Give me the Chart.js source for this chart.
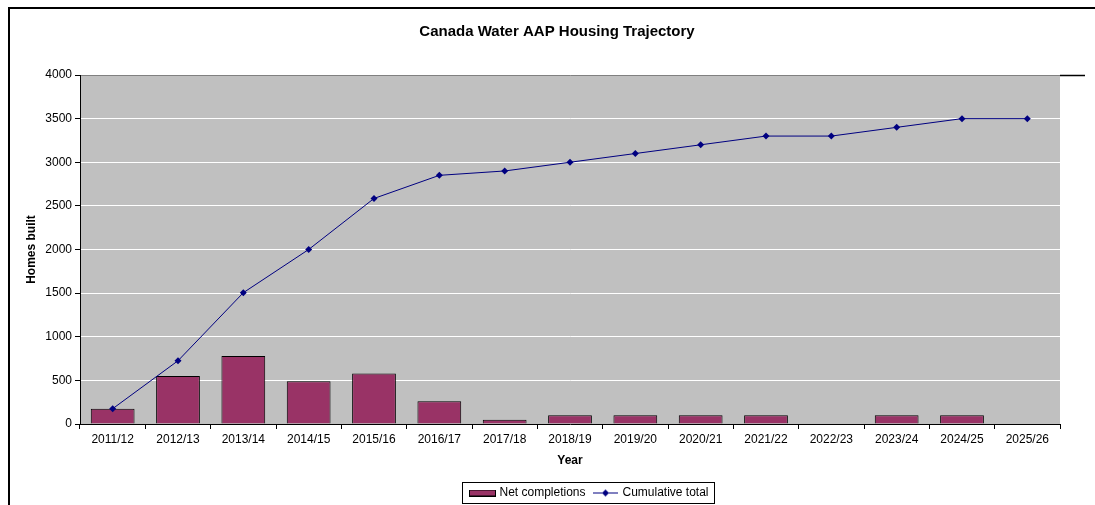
<!DOCTYPE html>
<html>
<head>
<meta charset="utf-8">
<title>Canada Water AAP Housing Trajectory</title>
<script src="https://cdn.jsdelivr.net/npm/chart.js@4"></script>
<style>
  html, body { margin: 0; padding: 0; background: #ffffff; }
  #wrap { width: 1095px; height: 505px; }
</style>
</head>
<body>
<div id="wrap"><canvas id="chart" width="1095" height="505"></canvas></div>
<script>
// Financial years on the category axis
const years = ['2011/12', '2012/13', '2013/14', '2014/15', '2015/16', '2016/17', '2017/18',
  '2018/19', '2019/20', '2020/21', '2021/22', '2022/23', '2023/24', '2024/25', '2025/26'];

// Homes completed in each year
const netCompletions = [175, 550, 780, 490, 580, 260, 50, 100, 100, 100, 100, 0, 100, 100, 0];

// Running total of homes built
const cumulativeTotal = [175, 725, 1505, 2000, 2585, 2850, 2900, 3000, 3100, 3200, 3300, 3300, 3400, 3500, 3500];

// Value axis ticks
const yTicks = [0, 500, 1000, 1500, 2000, 2500, 3000, 3500, 4000];

const FONT = '"Liberation Sans", Arial, Helvetica, sans-serif';
const BAR_FILL = '#993366';
const LINE_COLOR = '#000080';

// Use a narrow face for the heading when one is installed
function fontAvailable(name) {
  const g = document.createElement('canvas').getContext('2d');
  const s = 'Canada Water AAP Housing Trajectory';
  g.font = 'bold 18px monospace';
  const a = g.measureText(s).width;
  g.font = 'bold 18px "' + name + '", monospace';
  const b = g.measureText(s).width;
  return Math.abs(a - b) > 0.5;
}
const titleFont = fontAvailable('Liberation Sans Narrow')
  ? { family: '"Liberation Sans Narrow", ' + FONT, size: 18, weight: 'bold', lineHeight: 1.2 }
  : { family: FONT, size: 15, weight: 'bold', lineHeight: 1.2 };
const titleLine = titleFont.size * 1.2;
const TITLE_Y = 32, PLOT_TOP = 75;

// Small legend swatches: a bordered block for the bars, a line with a diamond for the total
function barSwatch() {
  const c = document.createElement('canvas');
  c.width = 27; c.height = 7;
  const g = c.getContext('2d');
  g.fillStyle = BAR_FILL;
  g.fillRect(0, 0, 27, 7);
  g.strokeStyle = '#000000';
  g.lineWidth = 1;
  g.strokeRect(0.5, 0.5, 26, 6);
  return c;
}
function lineSwatch() {
  const c = document.createElement('canvas');
  c.width = 25; c.height = 9;
  const g = c.getContext('2d');
  g.strokeStyle = LINE_COLOR;
  g.lineWidth = 1;
  g.beginPath();
  g.moveTo(0, 4.5); g.lineTo(25, 4.5);
  g.stroke();
  g.fillStyle = LINE_COLOR;
  g.beginPath();
  g.moveTo(12.5, 1); g.lineTo(16, 4.5); g.lineTo(12.5, 8); g.lineTo(9, 4.5);
  g.closePath();
  g.fill();
  return c;
}
const swatches = [barSwatch(), lineSwatch()];

// Page frame, grey plot area and a bordered legend box
const framePlugin = {
  id: 'frame',
  afterLayout(chart) {
    // heading and legend sit a little right of centre; legend hugs the bottom edge
    const tb = chart.titleBlock;
    if (tb) { tb.left += 17; tb.right += 17; }
    const lg = chart.legend;
    if (lg) {
      lg.left += 50; lg.right += 50;
      lg.top += 6; lg.bottom += 6;
    }
  },
  beforeDraw(chart) {
    const { ctx, chartArea: a } = chart;
    ctx.save();
    ctx.fillStyle = '#ffffff';
    ctx.fillRect(0, 0, chart.width, chart.height);
    ctx.fillStyle = '#C0C0C0';
    ctx.fillRect(a.left, a.top, a.right - a.left, a.bottom - a.top);
    ctx.restore();
  },
  afterDraw(chart) {
    const { ctx, chartArea: a } = chart;
    ctx.save();
    ctx.strokeStyle = '#000000';
    ctx.lineWidth = 2;
    ctx.beginPath();
    ctx.moveTo(9, 505); ctx.lineTo(9, 8); ctx.lineTo(1095, 8);
    ctx.stroke();
    ctx.lineWidth = 1.5;
    ctx.beginPath();
    ctx.moveTo(a.right, a.top + 0.5); ctx.lineTo(1085, a.top + 0.5);
    ctx.stroke();
    const boxes = chart.legend && chart.legend.legendHitBoxes;
    if (boxes && boxes.length) {
      const first = boxes[0], last = boxes[boxes.length - 1];
      const l = Math.round(first.left) - 8.5;
      const r = Math.round(last.left + last.width) + 5.5;
      const t = Math.round(first.top) - 4.5;
      const b = t + 21;
      ctx.lineWidth = 1;
      ctx.strokeRect(l, t, r - l, b - t);
    }
    ctx.restore();
  }
};

new Chart(document.getElementById('chart'), {
  type: 'bar',
  data: {
    labels: years,
    datasets: [
      {
        type: 'bar',
        label: 'Net completions',
        data: netCompletions,
        backgroundColor: BAR_FILL,
        borderColor: '#000000',
        borderWidth: 1,
        categoryPercentage: 1,
        barPercentage: 0.67,
        order: 2
      },
      {
        type: 'line',
        label: 'Cumulative total',
        data: cumulativeTotal,
        borderColor: LINE_COLOR,
        backgroundColor: LINE_COLOR,
        borderWidth: 1,
        pointStyle: 'rectRot',
        pointRadius: 3.5,
        pointBorderWidth: 0,
        pointHoverRadius: 3.5,
        tension: 0,
        order: 1
      }
    ]
  },
  options: {
    responsive: false,
    animation: false,
    layout: { padding: { left: 20, right: 35, top: 0, bottom: 2 } },
    plugins: {
      title: {
        display: true,
        text: 'Canada Water AAP Housing Trajectory',
        color: '#000000',
        font: titleFont,
        padding: { top: TITLE_Y - titleLine / 2, bottom: PLOT_TOP - TITLE_Y - titleLine / 2 }
      },
      legend: {
        position: 'bottom',
        labels: {
          color: '#000000',
          font: { family: FONT, size: 12 },
          usePointStyle: true,
          pointStyleWidth: 22,
          boxHeight: 9,
          padding: 9,
          generateLabels(chart) {
            return chart.data.datasets.map((ds, i) => ({
              text: ds.label,
              pointStyle: swatches[i],
              datasetIndex: i,
              hidden: false,
              lineWidth: 0,
              fontColor: '#000000'
            }));
          }
        }
      },
      tooltip: { enabled: false }
    },
    scales: {
      x: {
        offset: true,
        afterFit(scale) { scale.height = 48; },
        grid: {
          offset: true,
          drawOnChartArea: false,
          tickColor: '#000000',
          tickLength: 5
        },
        border: { color: '#000000', width: 1 },
        ticks: {
          color: '#000000',
          font: { family: FONT, size: 12 },
          padding: 3,
          maxRotation: 0,
          autoSkip: false
        },
        title: {
          display: true,
          text: 'Year',
          color: '#000000',
          font: { family: FONT, size: 12, weight: 'bold' },
          padding: { top: 4, bottom: 4 }
        }
      },
      y: {
        min: 0,
        max: 4000,
        afterFit(scale) { scale.width = 60; },
        afterBuildTicks(scale) { scale.ticks = yTicks.map(v => ({ value: v })); },
        grid: {
          color: ctx => (ctx.tick && ctx.tick.value === 4000 ? '#808080' : '#ffffff'),
          tickColor: '#000000',
          tickLength: 5,
          lineWidth: 1
        },
        border: { color: '#000000', width: 1 },
        ticks: {
          color: '#000000',
          font: { family: FONT, size: 12 },
          padding: 3,
          callback: v => String(v)
        },
        title: {
          display: true,
          text: 'Homes built',
          color: '#000000',
          font: { family: FONT, size: 12, weight: 'bold' },
          padding: { top: 4, bottom: 4 }
        }
      }
    }
  },
  plugins: [framePlugin]
});
</script>
</body>
</html>
